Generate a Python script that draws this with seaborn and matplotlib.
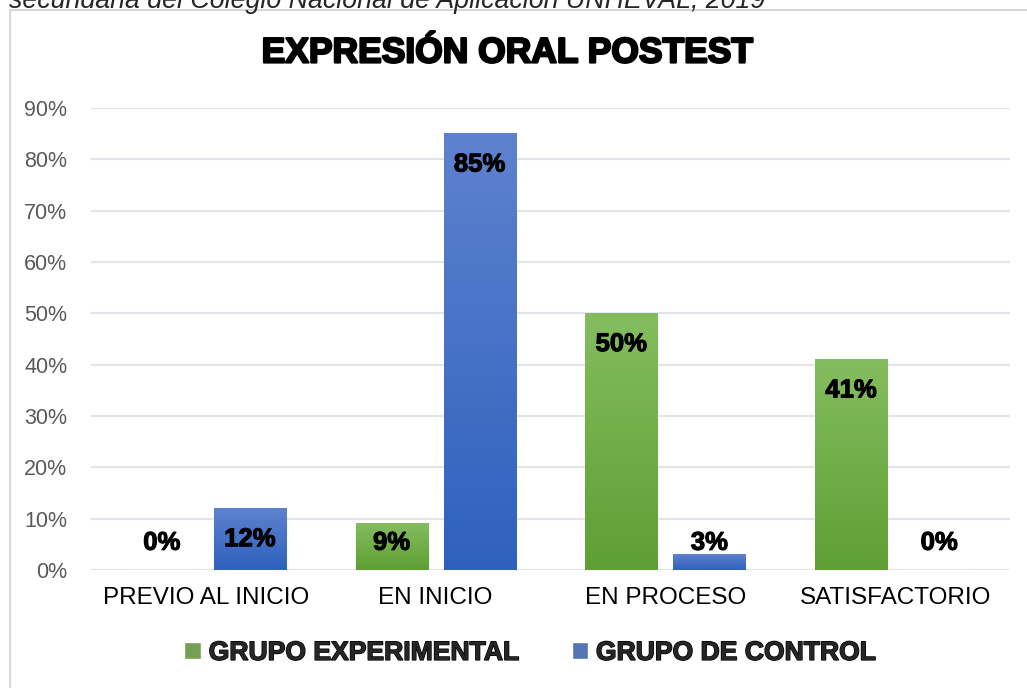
import numpy as np
import pandas as pd
import matplotlib
matplotlib.use("Agg")
import matplotlib.pyplot as plt
import matplotlib.patheffects as pe
from matplotlib.colors import LinearSegmentedColormap
from matplotlib.patches import Rectangle
import seaborn as sns

categorias = ["PREVIO AL INICIO", "EN INICIO", "EN PROCESO", "SATISFACTORIO"]
grupos = ["GRUPO EXPERIMENTAL", "GRUPO DE CONTROL"]
experimental = [0, 9, 50, 41]
control = [12, 85, 3, 0]
yticks = [0, 10, 20, 30, 40, 50, 60, 70, 80, 90]

df = pd.DataFrame({
    "categoria": categorias * 2,
    "grupo": [grupos[0]] * 4 + [grupos[1]] * 4,
    "valor": experimental + control,
})

sns.set_style("white")
plt.rcParams["font.family"] = ["Liberation Sans", "DejaVu Sans"]

colores = {grupos[0]: "#70AD47", grupos[1]: "#4472C4"}
grad = {grupos[0]: ("#5E9F33", "#84BD5F"), grupos[1]: ("#2E61BE", "#5E82CE")}

fig = plt.figure(figsize=(10.27, 6.88), dpi=100)
ax = fig.add_axes([91 / 1027, 0.1715, 919 / 1027, 0.6715])

sns.barplot(data=df, x="categoria", y="valor", hue="grupo", hue_order=grupos,
            order=categorias, palette=colores, width=0.767, gap=0.182, ax=ax,
            legend=True, zorder=3)

ax.set_ylim(0, 90)
ax.set_xlim(-0.5, 3.5)
xl, yl = ax.get_xlim(), ax.get_ylim()

# degradado vertical tipo Excel
for cont, g in zip(ax.containers, grupos):
    cmap = LinearSegmentedColormap.from_list(g, grad[g])
    for bar, v in zip(cont, df[df.grupo == g].valor):
        x, w, h = bar.get_x(), bar.get_width(), bar.get_height()
        if h > 0:
            ax.imshow(np.linspace(0, 1, 256).reshape(-1, 1), cmap=cmap, origin="lower",
                      extent=(x, x + w, 0, h), aspect="auto", zorder=4)
        ty = max(v - 6.0, 5.3)
        ax.text(x + w / 2, ty, f"{v}%", ha="center", va="center", fontsize=18.5,
                fontweight="bold", color="black", zorder=5,
                path_effects=[pe.withStroke(linewidth=0.8, foreground="black")])
ax.set_xlim(xl)
ax.set_ylim(yl)

ax.set_yticks(yticks)
ax.set_yticklabels([f"{t}%" for t in yticks])
ax.grid(axis="y", color="#E1E4E8", linewidth=1.6, zorder=0)
for s in ax.spines.values():
    s.set_visible(False)
ax.tick_params(axis="y", length=0, pad=17, labelsize=15.5, labelcolor="#595959")
ax.tick_params(axis="x", length=0, pad=12, labelsize=17.5, labelcolor="black")
ax.set_xlabel("")
ax.set_ylabel("")

handles, labels = ax.get_legend_handles_labels()
ax.get_legend().remove()
leg = fig.legend(handles, labels, loc="center", bbox_to_anchor=(0.516, 0.051), ncol=2,
                 frameon=False, handlelength=0.62, handleheight=0.62,
                 handletextpad=0.3, columnspacing=2.0,
                 prop={"weight": "bold", "size": 19.1})
for t in leg.get_texts():
    t.set_path_effects([pe.withStroke(linewidth=1.0, foreground="black")])

fig.text(0.494, 1 - 53 / 688, "EXPRESIÓN ORAL POSTEST", ha="center", va="center",
         fontsize=25.5, fontweight="bold", color="black",
         path_effects=[pe.withStroke(linewidth=1.6, foreground="black")])

fig.text(0.009, 1 - 8 / 688, "secundaria del Colegio Nacional de Aplicación UNHEVAL, 2019",
         ha="left", va="baseline", fontsize=19.3, style="italic", color="#262626")

fig.patches.append(Rectangle((10 / 1027, -0.02), 1.0, (688 - 10) / 688 + 0.02,
                             transform=fig.transFigure, fill=False,
                             edgecolor="#D0D0D0", linewidth=1.2))

fig.savefig("out.png", dpi=100)
